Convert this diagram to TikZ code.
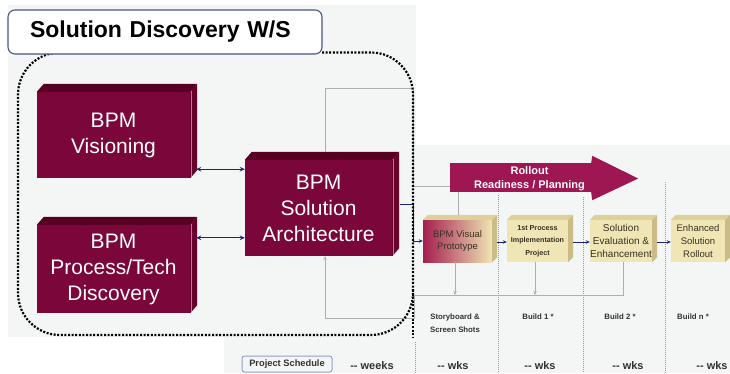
\documentclass[tikz,border=0pt]{standalone}
\usepackage{fontspec}
\setmainfont{Liberation Sans}
\usetikzlibrary{calc,arrows.meta}
\definecolor{bgc}{RGB}{243,246,244}
\definecolor{marF}{RGB}{122,6,58}
\definecolor{marT}{RGB}{88,0,36}
\definecolor{marS}{RGB}{105,0,44}
\definecolor{marL}{RGB}{205,110,160}
\definecolor{rollC}{RGB}{158,22,82}
\definecolor{tanF}{RGB}{240,229,180}
\definecolor{tanT}{RGB}{222,208,152}
\definecolor{tanS}{RGB}{202,188,132}
\definecolor{tanTxt}{RGB}{55,50,35}
\definecolor{protoL}{RGB}{165,30,80}
\definecolor{navyC}{RGB}{30,35,115}
\definecolor{lineG}{RGB}{172,175,175}
\definecolor{sepG}{RGB}{150,152,152}
\definecolor{titleB}{RGB}{75,85,125}
\definecolor{schedB}{RGB}{150,160,200}
\definecolor{lblC}{RGB}{50,50,50}
\begin{document}
\begin{tikzpicture}[x=1pt,y=-1pt,
  mbox/.style={fill=marF,text=white,font=\fontsize{21}{26}\selectfont,align=center,inner sep=0pt},
  tbox/.style={fill=tanF,text=tanTxt,align=center,inner sep=0pt,minimum height=42pt},
  navyarr/.style={draw=navyC,line width=0.9pt},
  grayln/.style={draw=lineG,line width=0.8pt},
  sepline/.style={draw=sepG,line width=0.8pt,dash pattern=on 1pt off 1pt},
  bigdots/.style={draw=black,line width=2.2pt,dash pattern=on 2pt off 1.6pt},
  lbl/.style={text=lblC,font=\bfseries\fontsize{7.8}{13}\selectfont,align=center,inner sep=0pt},
  wkslbl/.style={text=lblC,font=\bfseries\fontsize{11}{13}\selectfont,inner sep=0pt}
]
\useasboundingbox (0,0) rectangle (730,373);
% background panels
\fill[white] (0,0) rectangle (730,373);
\fill[bgc] (8,5) rectangle (416,337);
\fill[bgc] (416,145) rectangle (730,373);
\fill[bgc] (224,337) rectangle (416,373);

% separators
\draw[sepline] (415,342) -- (415,373);
\draw[sepline] (498,195) -- (498,373);
\draw[sepline] (583,197) -- (583,373);
\draw[sepline] (665,182) -- (665,373);

% maroon 3D boxes
\node[mbox,minimum width=153pt,minimum height=86pt] (vis) at (113.5,135) {BPM\\Visioning};
\node[mbox,minimum width=153pt,minimum height=88pt] (proc) at (113.5,269) {BPM\\Process/Tech\\Discovery};
\node[mbox,minimum width=147pt,minimum height=96pt] (arch) at (318.5,208) {BPM\\Solution\\Architecture};
\foreach \n in {vis,proc,arch}{
  \fill[marT] (\n.north west) -- ++(7,-8) -- ($(\n.north east)+(7,-8)$) -- (\n.north east) -- cycle;
  \fill[marS] (\n.north east) -- ++(7,-8) -- ($(\n.south east)+(7,-8)$) -- (\n.south east) -- cycle;
  \draw[marL,line width=1pt] ($(\n.north east)+(0.8,-1)$) -- ($(\n.south east)+(0.8,-1)$);
}

% tan 3D boxes
\node[tbox,minimum width=69pt,left color=protoL,right color=tanF,font=\fontsize{9.5}{12.5}\selectfont] (proto) at (457.5,241) {BPM Visual\\Prototype};
\node[tbox,minimum width=61pt,font=\bfseries\fontsize{7.2}{12.5}\selectfont] (impl) at (537.5,241) {1st Process\\Implementation\\Project};
\node[tbox,minimum width=62pt,font=\fontsize{10}{13}\selectfont] (eval) at (621,241) {Solution\\Evaluation \&\\Enhancement};
\node[tbox,minimum width=54pt,font=\fontsize{9.5}{13}\selectfont] (enh) at (698,241) {Enhanced\\Solution\\Rollout};
\foreach \n in {proto,impl,eval,enh}{
  \fill[tanT] (\n.north west) -- ++(5,-5) -- ($(\n.north east)+(5,-5)$) -- (\n.north east) -- cycle;
  \fill[tanS] (\n.north east) -- ++(5,-5) -- ($(\n.south east)+(5,-5)$) -- (\n.south east) -- cycle;
}

% rollout arrow
\node[fill=rollC,minimum width=142pt,minimum height=29pt,inner sep=0pt] (rollbody) at (521,177.5) {};
\fill[rollC] ($(rollbody.north east)+(-1,0)$) -- ($(rollbody.north east)+(0,-7)$)
   -- ($(rollbody.east)+(46,1)$) -- ($(rollbody.south east)+(0,8)$) -- ($(rollbody.south east)+(-1,0)$) -- cycle;
\node[text=white,font=\bfseries\fontsize{11}{14}\selectfont,align=center,inner sep=0pt] (rolltext) at (529.5,179) {Rollout\\Readiness / Planning};

% gray connectors
\draw[grayln] ($(arch.north)+(6.5,-8)$) |- (413.5,88) |- ($(rollbody.south west)+(0,-6)$);
\coordinate (pt) at ($(proto.north)+(0.5,-5)$);
\draw[grayln] (pt) -- (pt |- rollbody.south);
\coordinate (fbR) at (414,295);
\draw[grayln,-{Stealth[length=4pt,width=3.5pt]}] ([xshift=2pt]eval.south) |- (fbR) -- (414,318) -| ($(arch.south)+(6.5,0)$);
\draw[grayln,-{Stealth[length=4pt,width=3.5pt]}] ([xshift=-2.5pt]proto.south) -- ([xshift=-2.5pt]proto.south |- fbR);
\draw[grayln,-{Stealth[length=4pt,width=3.5pt]}] ([xshift=-2.5pt]impl.south) -- ([xshift=-2.5pt]impl.south |- fbR);

% navy connectors
\coordinate (va) at ($(vis.south east)+(6,-9)$);
\draw[navyarr,{Stealth[length=5pt,width=4.5pt]}-{Stealth[length=5pt,width=4.5pt]}] (va) -- (va -| arch.west);
\coordinate (pa) at ($(proc.north east)+(6,13)$);
\draw[navyarr,{Stealth[length=5pt,width=4.5pt]}-{Stealth[length=5pt,width=4.5pt]}] (pa) -- (pa -| arch.west);
\coordinate (ao) at ($(arch.east)+(7.5,-4)$);
\draw[navyarr,-{Stealth[length=4pt,width=3.5pt]}] (ao) -- (413.5,204) |- (proto.west);
\coordinate (p1) at ($(proto.east)+(5,1)$);
\draw[navyarr,-{Stealth[length=4pt,width=3.5pt]}] (p1) -- (p1 -| impl.west);
\coordinate (p2) at ($(impl.east)+(5,1)$);
\draw[navyarr,-{Stealth[length=4pt,width=3.5pt]}] (p2) -- (p2 -| eval.west);
\coordinate (p3) at ($(eval.east)+(5,1)$);
\draw[navyarr,-{Stealth[length=4pt,width=3.5pt]}] (p3) -- (p3 -| enh.west);

% big dotted workshop frame
\draw[bigdots,rounded corners=42pt] (322,52.5) -- (413,52.5) -- (413,335) -- (18,335) -- (18,52.5) -- (70,52.5);
\draw[bigdots] (413,290) -- (413,338);

% title
\node[draw=titleB,line width=1.1pt,fill=white,rounded corners=7pt,minimum height=44pt,
      text width=270pt,inner xsep=22pt,align=left,font=\bfseries\fontsize{23}{27}\selectfont] (title) at (165,32) {Solution Discovery W/S};

% bottom labels
\node[lbl] (story) at (455,323.5) {Storyboard \&\\Screen Shots};
\node[lbl] (b1) at (538,317) {Build 1 *};
\node[lbl] (b2) at (620,317) {Build 2 *};
\node[lbl] (bn) at (693,317) {Build n *};
\node[draw=schedB,line width=1pt,rounded corners=2.5pt,minimum width=90pt,minimum height=16pt,inner sep=0pt,
      text=lblC,font=\bfseries\fontsize{9.3}{11}\selectfont] (sched) at (287,364) {Project Schedule};
\node[wkslbl] (w0) at (372,366) {-{}- weeks};
\node[wkslbl] (w1) at (453,366) {-{}- wks};
\node[wkslbl] (w2) at (540,366) {-{}- wks};
\node[wkslbl] (w3) at (628,366) {-{}- wks};
\node[wkslbl] (w4) at (712,366) {-{}- wks};
\end{tikzpicture}
\end{document}
